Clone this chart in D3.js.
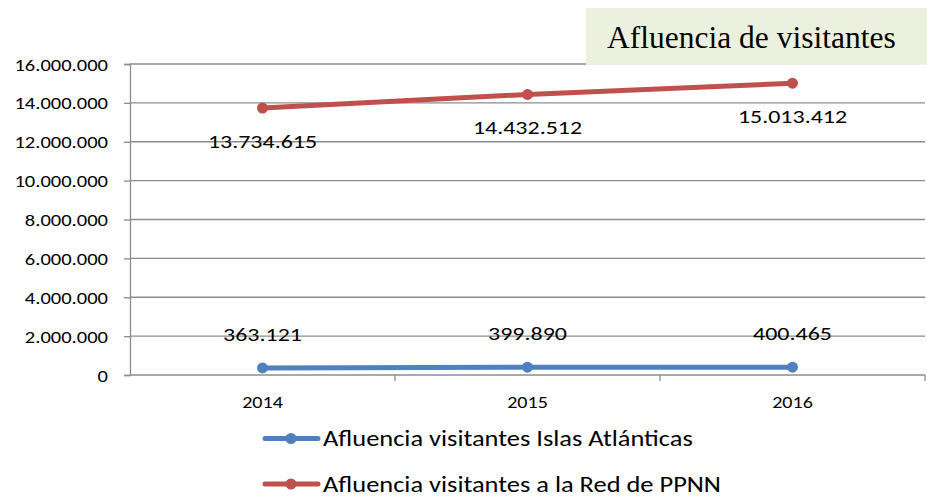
<!DOCTYPE html>
<html>
<head>
<meta charset="utf-8">
<script src="https://cdn.jsdelivr.net/npm/d3@7"></script>
<style>
  html, body { margin: 0; padding: 0; background: #fff; }
  svg { display: block; }
  .sans { font-family: Carlito, Lato, "Liberation Sans", sans-serif; }
</style>
</head>
<body>
<svg id="chart" width="927" height="496"></svg>
<script>
// Visitor counts per year
const years = ["2014", "2015", "2016"];
const islasAtlanticas = [363121, 399890, 400465];
const redPPNN = [13734615, 14432512, 15013412];
const seriesNames = ["Afluencia visitantes Islas Atlánticas", "Afluencia visitantes a la Red de PPNN"];
const seriesColors = ["#4F81BD", "#C0504D"];
const yTicks = [0, 2000000, 4000000, 6000000, 8000000, 10000000, 12000000, 14000000, 16000000];
const chartTitle = "Afluencia de visitantes";

const svg = d3.select("#chart");
const margin = { left: 130, right: 2, top: 64, bottom: 121 };
const W = 927, H = 496;

const x = d3.scaleBand().domain(years).range([margin.left, W - margin.right]).padding(0);
const y = d3.scaleLinear().domain([0, 16000000]).range([H - margin.bottom, margin.top]);
const cx = d => x(d) + x.bandwidth() / 2;

const fmt = v => d3.format(",")(v).replace(/,/g, ".");

// places a horizontally stretched text at (px, py)
function wideText(parent, px, py, str, size, anchor, sx) {
  return parent.append("text")
    .attr("class", "sans")
    .attr("transform", `translate(${px},${py}) scale(${sx},1)`)
    .attr("text-anchor", anchor)
    .attr("font-size", size)
    .attr("fill", "#000")
    .text(str);
}

// horizontal gridlines
svg.append("g")
  .selectAll("line")
  .data(yTicks.slice(1))
  .join("line")
  .attr("x1", margin.left).attr("x2", W - margin.right)
  .attr("y1", d => y(d)).attr("y2", d => y(d))
  .attr("stroke", "#8c8c8c").attr("stroke-width", 1.3);

// y axis
const yAxis = svg.append("g")
  .attr("transform", `translate(${margin.left},0)`)
  .call(d3.axisLeft(y).tickValues(yTicks).tickFormat(fmt).tickSize(6).tickPadding(0));
yAxis.select(".domain").attr("stroke", "#8c8c8c").attr("stroke-width", 1.3);
yAxis.selectAll(".tick line").attr("stroke", "#8c8c8c").attr("stroke-width", 1.3);
yAxis.selectAll(".tick text")
  .attr("class", "sans")
  .attr("x", 0).attr("dy", null)
  .attr("transform", `translate(-22,6) scale(1.3,1)`)
  .attr("font-size", 15.8)
  .attr("fill", "#000");

// x axis, with tick marks on category boundaries
const xAxisG = svg.append("g").attr("transform", `translate(0,${y(0)})`);
xAxisG.append("line")
  .attr("x1", margin.left).attr("x2", W - margin.right)
  .attr("stroke", "#8c8c8c").attr("stroke-width", 1.3);
const bounds = years.map(d => x(d) + x.bandwidth());
xAxisG.selectAll(".bt").data(bounds).join("line")
  .attr("class", "bt")
  .attr("x1", d => d).attr("x2", d => d)
  .attr("y1", 0).attr("y2", 6)
  .attr("stroke", "#8c8c8c").attr("stroke-width", 1.3);
years.forEach(d => wideText(xAxisG, cx(d), 33, d, 16.2, "middle", 1.24));

// series lines and markers
const series = [islasAtlanticas, redPPNN];
const line = d3.line().x((d, i) => cx(years[i])).y(d => y(d));
series.forEach((vals, s) => {
  svg.append("path")
    .datum(vals)
    .attr("d", line)
    .attr("fill", "none")
    .attr("stroke", seriesColors[s])
    .attr("stroke-width", 5)
    .attr("stroke-linecap", "round");
  svg.append("g").selectAll("circle").data(vals).join("circle")
    .attr("cx", (d, i) => cx(years[i]))
    .attr("cy", d => y(d))
    .attr("r", 5.5)
    .attr("fill", seriesColors[s]);
});

// data labels: red below its points, blue above
const labels = svg.append("g");
redPPNN.forEach((v, i) => wideText(labels, cx(years[i]), y(v) + 40, fmt(v), 19, "middle", 1.26));
islasAtlanticas.forEach((v, i) => wideText(labels, cx(years[i]), y(v) - 27, fmt(v), 19, "middle", 1.26));

// legend
const legend = svg.append("g");
seriesNames.forEach((name, i) => {
  const ly = 438.5 + i * 45.5;
  legend.append("line")
    .attr("x1", 265).attr("x2", 318).attr("y1", ly).attr("y2", ly)
    .attr("stroke", seriesColors[i]).attr("stroke-width", 5).attr("stroke-linecap", "round");
  legend.append("circle").attr("cx", 291).attr("cy", ly).attr("r", 5.5).attr("fill", seriesColors[i]);
  wideText(legend, 323, ly + 7.5, name, 21.5, "start", 1.23);
});

// title box
svg.append("rect")
  .attr("x", 586).attr("y", 8).attr("width", W - 586).attr("height", 57)
  .attr("fill", "#EBF1DE");
svg.append("text")
  .attr("x", 607).attr("y", 48)
  .attr("font-family", "'Liberation Serif', 'Times New Roman', serif")
  .attr("font-size", 31.5)
  .attr("fill", "#000")
  .text(chartTitle);
</script>
</body>
</html>
